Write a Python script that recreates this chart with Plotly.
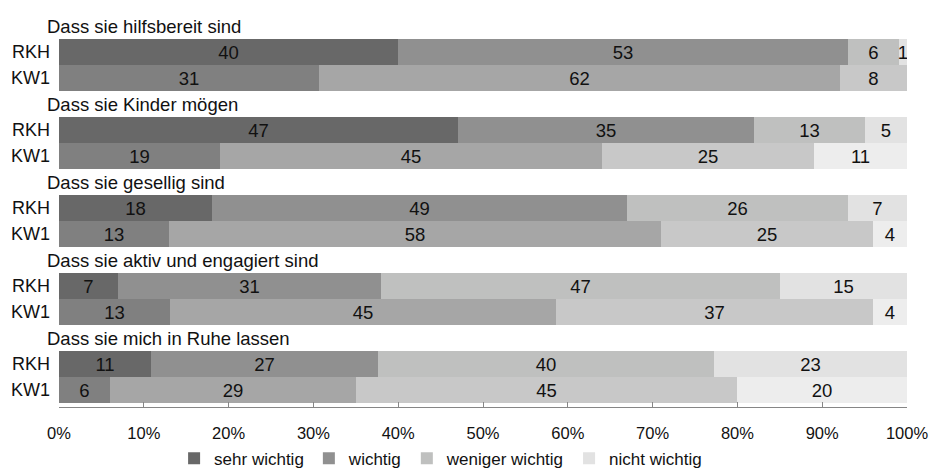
import plotly.graph_objects as go

# Survey items, one block per statement, two respondent groups each
statements = [
    "Dass sie hilfsbereit sind",
    "Dass sie Kinder mögen",
    "Dass sie gesellig sind",
    "Dass sie aktiv und engagiert sind",
    "Dass sie mich in Ruhe lassen",
]
groups = ["RKH", "KW1"]

# Answer shares (%) per statement
sehr_wichtig_rkh = [40, 47, 18, 7, 11]
sehr_wichtig_kw1 = [31, 19, 13, 13, 6]
wichtig_rkh = [53, 35, 49, 31, 27]
wichtig_kw1 = [62, 45, 58, 45, 29]
weniger_wichtig_rkh = [6, 13, 26, 47, 40]
weniger_wichtig_kw1 = [8, 25, 25, 37, 45]
nicht_wichtig_rkh = [1, 5, 7, 15, 23]
nicht_wichtig_kw1 = [0, 11, 4, 4, 20]

answers = ["sehr wichtig", "wichtig", "weniger wichtig", "nicht wichtig"]
values_rkh = [sehr_wichtig_rkh, wichtig_rkh, weniger_wichtig_rkh, nicht_wichtig_rkh]
values_kw1 = [sehr_wichtig_kw1, wichtig_kw1, weniger_wichtig_kw1, nicht_wichtig_kw1]

# Grey shades: darker for RKH, lighter for KW1
colors_rkh = ["#686868", "#909090", "#bfc0bf", "#e2e2e2"]
colors_kw1 = ["#808080", "#a6a6a6", "#c8c8c8", "#ededed"]

FONT = "Liberation Sans, Arial, sans-serif"
INK = "#111111"

# Row layout: each statement takes a header row followed by RKH and KW1 rows
rows_per_block = 3
y_pos, y_text = [], []
for i in range(len(statements)):
    for j, g in enumerate(groups):
        y_pos.append(i * rows_per_block + 1 + j)
        y_text.append(g)

fig = go.Figure()
for k, name in enumerate(answers):
    xs, cols = [], []
    for i in range(len(statements)):
        xs.append(values_rkh[k][i])
        cols.append(colors_rkh[k])
        xs.append(values_kw1[k][i])
        cols.append(colors_kw1[k])
    fig.add_trace(go.Bar(
        name=name,
        orientation="h",
        x=xs,
        y=y_pos,
        width=1.0,
        marker=dict(color=cols, line=dict(width=0)),
        text=[str(v) if v > 0 else "" for v in xs],
        textposition="inside",
        insidetextanchor="middle",
        textangle=0,
        constraintext="none",
        textfont=dict(family=FONT, size=18.5, color=INK),
        hoverinfo="skip",
    ))

# Statement headings above each block
for i, s in enumerate(statements):
    fig.add_annotation(
        text=s, xref="paper", yref="y",
        x=-0.0165, y=i * rows_per_block + 0.02,
        xanchor="left", yanchor="middle", showarrow=False,
        font=dict(family=FONT, size=18.5, color=INK),
    )

n_rows = len(statements) * rows_per_block

fig.update_layout(
    width=929, height=473,
    autosize=False,
    barmode="stack",
    barnorm="percent",
    bargap=0,
    plot_bgcolor="white",
    paper_bgcolor="white",
    margin=dict(l=59, r=22, t=13, b=66, autoexpand=False),
    font=dict(family=FONT, size=16, color=INK),
    uniformtext=dict(minsize=18.5, mode="show"),
    showlegend=True,
    legend=dict(
        orientation="h",
        x=0.45, xanchor="center",
        yref="container",
        y=0.03, yanchor="middle",
        font=dict(family=FONT, size=17, color=INK),
        itemwidth=30,
        traceorder="normal",
    ),
    xaxis=dict(
        range=[0, 100],
        tickmode="array",
        tickvals=list(range(0, 101, 10)),
        ticktext=[f"{v}%" for v in range(0, 101, 10)],
        showgrid=False,
        zeroline=False,
        showline=True,
        linecolor="#868686",
        linewidth=1,
        ticks="inside",
        ticklen=5,
        tickcolor="#868686",
        ticklabelstandoff=11,
        tickfont=dict(family=FONT, size=16.5, color=INK),
    ),
    yaxis=dict(
        range=[n_rows - 0.35, -0.5],
        tickmode="array",
        tickvals=y_pos,
        ticktext=y_text,
        showgrid=False,
        zeroline=False,
        showline=False,
        ticks="",
        ticklabelstandoff=8,
        tickfont=dict(family=FONT, size=18, color=INK),
    ),
)

fig.write_html("out.html")
